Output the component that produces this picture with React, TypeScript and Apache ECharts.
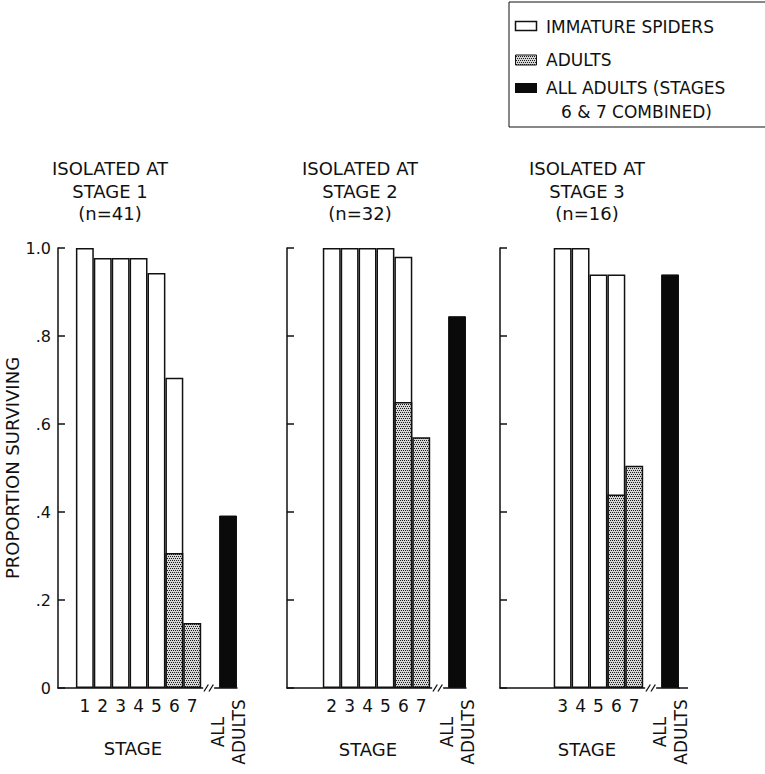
import React, { useEffect, useRef } from "react";
import * as echarts from "echarts";

// ---- data ----
const CATEGORIES = ["pre", "1", "2", "3", "4", "5", "6", "7", "brk", "ALL"];
const STAGE_LABELS = ["1", "2", "3", "4", "5", "6", "7"];
const Y_TICK_LABELS = ["0", ".2", ".4", ".6", ".8", "1.0"];

const TITLES = [
  "ISOLATED AT\nSTAGE 1\n(n=41)",
  "ISOLATED AT\nSTAGE 2\n(n=32)",
  "ISOLATED AT\nSTAGE 3\n(n=16)",
];

// stages 1..7 ; proportion surviving (immature, total height of open bar)
const P1_IMMATURE = [1.0, 0.977, 0.977, 0.977, 0.943, 0.705, null];
const P1_ADULTS = [null, null, null, null, null, 0.307, 0.148];
const P1_ALL_ADULTS = 0.392;

const P2_IMMATURE = [null, 1.0, 1.0, 1.0, 1.0, 0.98, null];
const P2_ADULTS = [null, null, null, null, null, 0.65, 0.57];
const P2_ALL_ADULTS = 0.845;

const P3_IMMATURE = [null, null, 1.0, 1.0, 0.94, 0.94, null];
const P3_ADULTS = [null, null, null, null, null, 0.44, 0.505];
const P3_ALL_ADULTS = 0.94;

const LEGEND_NAMES = ["IMMATURE SPIDERS", "ADULTS", "ALL ADULTS (STAGES", "6 & 7 COMBINED)"];
const X_NAME = "STAGE";
const Y_NAME = "PROPORTION SURVIVING";
const ALL_LABEL = "ALL\nADULTS";

const PANELS = [
  { immature: P1_IMMATURE, adults: P1_ADULTS, all: P1_ALL_ADULTS },
  { immature: P2_IMMATURE, adults: P2_ADULTS, all: P2_ALL_ADULTS },
  { immature: P3_IMMATURE, adults: P3_ADULTS, all: P3_ALL_ADULTS },
];

// ---- layout ----
const FONT = '"DejaVu Sans", sans-serif';
const INK = "#111";
const GRID_LEFT = [58, 287, 500];
const GRID_W = 179;
const GRID_TOP = 248;
const GRID_H = 440;
const TITLE_POS = [
  [110, 191],
  [360, 191],
  [587, 191],
];
const STAGE_POS = [
  [133, 748],
  [368, 749],
  [587, 749],
];

function pad(vals: (number | null)[]) {
  return [null, ...vals, null, null];
}
function allData(v: number) {
  const a: (number | null)[] = CATEGORIES.map(() => null);
  a[CATEGORIES.length - 1] = v;
  return a;
}

export default function App() {
  const ref = useRef<HTMLDivElement>(null);

  useEffect(() => {
    const el = ref.current!;
    const chart = echarts.init(el, null, { renderer: "svg" });

    const pat = document.createElement("canvas");
    pat.width = 4;
    pat.height = 4;
    const ctx = pat.getContext("2d")!;
    ctx.fillStyle = "#d6d6d6";
    ctx.fillRect(0, 0, 4, 4);
    ctx.fillStyle = "#1a1a1a";
    [
      [0, 0],
      [2, 0],
      [1, 2],
      [3, 2],
    ].forEach(([x, y]) => ctx.fillRect(x, y, 1, 1));
    const adultFill: any = { image: pat, repeat: "repeat" };

    const grid: any[] = [];
    const xAxis: any[] = [];
    const yAxis: any[] = [];
    const series: any[] = [];

    PANELS.forEach((p, i) => {
      // a stage number is printed only where that panel has a bar
      const shown = STAGE_LABELS.filter((_, k) => p.immature[k] != null || p.adults[k] != null);
      grid.push({ left: GRID_LEFT[i], top: GRID_TOP, width: GRID_W, height: GRID_H });
      xAxis.push({
        type: "category",
        gridIndex: i,
        data: CATEGORIES,
        axisLine: { show: true, lineStyle: { color: INK, width: 1.5 } },
        axisTick: { show: false },
        axisLabel: {
          interval: 0,
          margin: 9,
          color: INK,
          fontFamily: FONT,
          fontSize: 17,
          formatter: (v: string) => (shown.includes(v) ? v : ""),
        },
        splitLine: { show: false },
      });
      xAxis.push({
        type: "category",
        gridIndex: i,
        position: "bottom",
        data: CATEGORIES,
        axisLine: { show: false },
        axisTick: { show: false },
        axisLabel: {
          interval: 0,
          rotate: 90,
          align: "center",
          verticalAlign: "middle",
          margin: 44,
          color: INK,
          fontFamily: FONT,
          fontSize: 17,
          lineHeight: 21,
          formatter: (v: string) => (v === "ALL" ? ALL_LABEL : ""),
        },
        splitLine: { show: false },
      });
      yAxis.push({
        type: "value",
        gridIndex: i,
        min: 0,
        max: 1,
        interval: 0.2,
        name: i === 0 ? Y_NAME : "",
        nameLocation: "middle",
        nameRotate: 90,
        nameGap: 33,
        nameTextStyle: { color: INK, fontFamily: FONT, fontSize: 18 },
        axisLine: { show: true, lineStyle: { color: INK, width: 1.5 } },
        axisTick: { show: true, inside: true, length: 7, lineStyle: { color: INK, width: 1.5 } },
        axisLabel: {
          show: i === 0,
          margin: 7,
          color: INK,
          fontFamily: FONT,
          fontSize: 16,
          formatter: (v: number) => Y_TICK_LABELS[Math.round(v / 0.2)],
        },
        splitLine: { show: false },
      });
      const common = {
        type: "bar",
        xAxisIndex: i * 2,
        yAxisIndex: i,
        barGap: "-100%",
        barCategoryGap: "0%",
      };
      series.push({
        ...common,
        name: "IMMATURE SPIDERS",
        data: pad(p.immature),
        itemStyle: { color: "#ffffff", borderColor: INK, borderWidth: 1.5 },
      });
      series.push({
        ...common,
        name: "ADULTS",
        data: pad(p.adults),
        itemStyle: { color: adultFill, borderColor: INK, borderWidth: 1.5 },
      });
      series.push({
        ...common,
        name: "ALL ADULTS (STAGES 6 & 7 COMBINED)",
        data: allData(p.all),
        itemStyle: { color: "#0a0a0a", borderColor: INK, borderWidth: 1 },
      });
    });

    chart.setOption({
      animation: false,
      backgroundColor: "#ffffff",
      textStyle: { fontFamily: FONT },
      grid,
      xAxis,
      yAxis,
      series,
    });

    const g: any[] = [];
    const txt = (x: number, y: number, text: string, extra: any = {}) => ({
      type: "text",
      x,
      y,
      z: 100,
      style: {
        text,
        fill: INK,
        font: `${extra.fontSize || 17}px ${FONT}`,
        align: extra.align || "left",
        verticalAlign: "middle",
        lineHeight: extra.lineHeight,
      },
    });

    // legend
    g.push({
      type: "rect",
      z: 100,
      shape: { x: 509, y: 2, width: 300, height: 125 },
      style: { fill: "none", stroke: INK, lineWidth: 1 },
    });
    g.push({
      type: "rect",
      z: 100,
      shape: { x: 515.5, y: 21.5, width: 21, height: 9 },
      style: { fill: "#fff", stroke: INK, lineWidth: 1.5 },
    });
    g.push({
      type: "rect",
      z: 100,
      shape: { x: 515.5, y: 55, width: 21, height: 10 },
      style: { fill: adultFill, stroke: INK, lineWidth: 1 },
    });
    g.push({
      type: "rect",
      z: 100,
      shape: { x: 515, y: 83, width: 22, height: 10 },
      style: { fill: "#0a0a0a" },
    });
    g.push(txt(546, 27, LEGEND_NAMES[0]));
    g.push(txt(546, 60, LEGEND_NAMES[1]));
    g.push(txt(546, 88, LEGEND_NAMES[2]));
    g.push(txt(561, 112, LEGEND_NAMES[3]));

    // titles & stage labels
    TITLES.forEach((t, i) => {
      g.push(txt(TITLE_POS[i][0], TITLE_POS[i][1], t, { fontSize: 18, align: "center", lineHeight: 22.5 }));
      g.push(txt(STAGE_POS[i][0], STAGE_POS[i][1], X_NAME, { fontSize: 18, align: "center" }));
    });

    // axis break marks
    PANELS.forEach((_, i) => {
      const cx = chart.convertToPixel({ xAxisIndex: i * 2 } as any, "brk") as unknown as number;
      const cy = chart.convertToPixel({ yAxisIndex: i } as any, 0) as unknown as number;
      const bx = cx - 1.5;
      g.push({
        type: "rect",
        z: 100,
        shape: { x: bx - 5.5, y: cy - 3, width: 11, height: 6 },
        style: { fill: "#fff" },
      });
      [-2.5, 2.5].forEach((o) =>
        g.push({
          type: "line",
          z: 101,
          shape: { x1: bx + o - 2.2, y1: cy + 3.5, x2: bx + o + 2.2, y2: cy - 3.5 },
          style: { stroke: INK, lineWidth: 1.3 },
        })
      );
    });
    // panel 3 baseline runs slightly past its last bar
    {
      const cy = chart.convertToPixel({ yAxisIndex: 2 } as any, 0) as unknown as number;
      const right = GRID_LEFT[2] + GRID_W;
      g.push({
        type: "line",
        z: 100,
        shape: { x1: right - 1, y1: cy, x2: right + 9, y2: cy },
        style: { stroke: INK, lineWidth: 1.5 },
      });
    }

    chart.setOption({ graphic: { elements: g } });

    return () => chart.dispose();
  }, []);

  return (
    <div
      ref={ref}
      style={{ position: "fixed", left: 0, top: 0, width: 765, height: 774, background: "#fff" }}
    />
  );
}
